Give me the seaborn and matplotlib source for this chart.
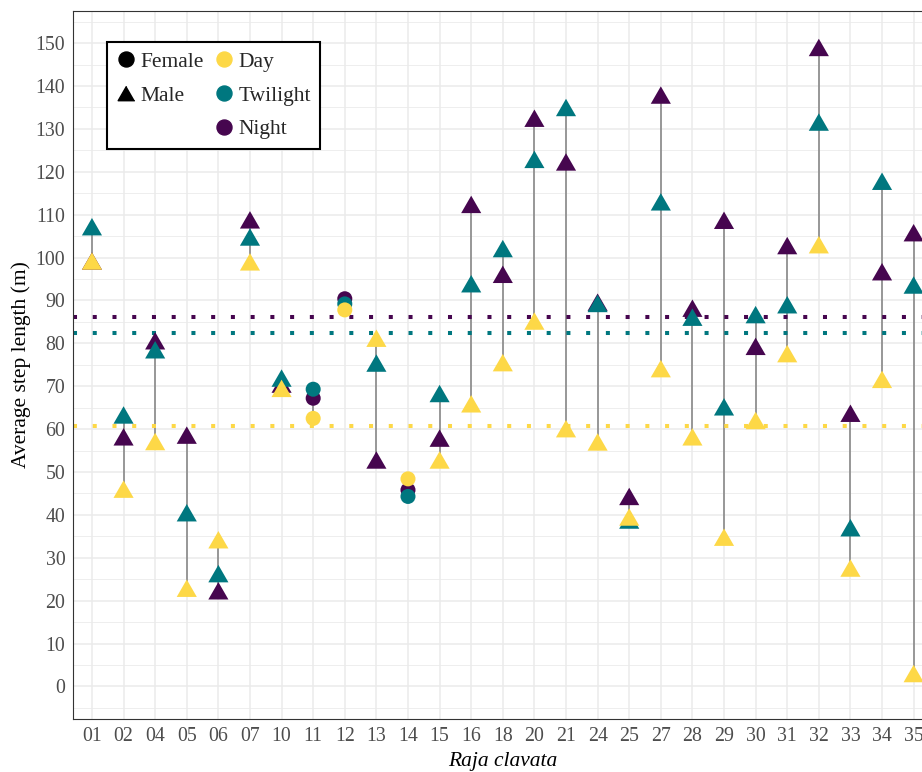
import numpy as np
import pandas as pd
import matplotlib
matplotlib.use("Agg")
import matplotlib.pyplot as plt
import seaborn as sns
from matplotlib.lines import Line2D
from matplotlib.ticker import MultipleLocator

# Average step length (m) per individual and period
ids = ['01', '02', '04', '05', '06', '07', '10', '11', '12', '13', '14', '15', '16', '18',
       '20', '21', '24', '25', '27', '28', '29', '30', '31', '32', '33', '34', '35']
sex = ['Male', 'Male', 'Male', 'Male', 'Male', 'Male', 'Male', 'Female', 'Female', 'Male',
       'Female', 'Male', 'Male', 'Male', 'Male', 'Male', 'Male', 'Male', 'Male', 'Male',
       'Male', 'Male', 'Male', 'Male', 'Male', 'Male', 'Male']
day = [99.2, 46.0, 57.1, 22.9, 34.2, 99.0, 69.5, 62.5, 87.8, 81.2, 48.4, 52.8, 65.9, 75.5,
       85.2, 60.1, 57.0, 39.5, 74.1, 58.2, 34.8, 62.0, 77.6, 103.0, 27.6, 71.6, 3.0]
twilight = [107.2, 63.3, 78.5, 40.5, 26.3, 104.8, 71.9, 69.3, 89.2, 75.4, 44.3, 68.3, 93.9, 102.1,
            122.9, 135.0, 89.3, 38.8, 113.0, 86.1, 65.2, 86.7, 89.0, 131.6, 37.0, 117.8, 93.6]
night = [99.2, 58.2, 80.6, 58.6, 22.3, 108.8, 70.5, 67.2, 90.4, 52.8, 45.8, 57.9, 112.4, 96.1,
         132.5, 122.3, 89.6, 44.3, 137.9, 88.2, 108.7, 79.3, 102.8, 149.0, 63.7, 96.7, 105.8]

periods = ['Day', 'Twilight', 'Night']
mean_step = {'Day': 60.8, 'Twilight': 82.5, 'Night': 86.2}
palette = {'Day': '#FDD847', 'Twilight': '#00777F', 'Night': '#46064F'}

df = pd.DataFrame({'ID': ids, 'Sex': sex, 'Day': day, 'Twilight': twilight, 'Night': night})
df['x'] = np.arange(len(ids))
# night first, day last so day sits on top
long = df.melt(id_vars=['ID', 'Sex', 'x'], value_vars=['Night', 'Twilight', 'Day'],
               var_name='Period', value_name='Step')
rng = long.groupby('x')['Step'].agg(['min', 'max']).reset_index()

sns.set_style('white')
plt.rcParams['font.family'] = ['Liberation Serif']

tri = [(0, 0.5), (-0.577, -0.5), (0.577, -0.5)]

fig = plt.figure(figsize=(9.22, 7.72), dpi=100)
ax = fig.add_axes([73 / 922, 53 / 772, 859.6 / 922, 708 / 772])

ax.vlines(rng['x'], rng['min'], rng['max'], color='#7F7F7F', linewidth=1.1, zorder=2)

for p in periods:
    ax.axhline(mean_step[p], color=palette[p], linestyle=(0, (1, 3.9)), linewidth=2.9, zorder=2.5)

for sx, mk, sz in [('Female', 'o', 117), ('Male', tri, 210)]:
    sns.scatterplot(data=long[long['Sex'] == sx], x='x', y='Step', hue='Period',
                    hue_order=periods, palette=palette, marker=mk, s=sz, linewidth=0,
                    legend=False, ax=ax, zorder=3)

ax.set_xlim(-0.6, len(ids) - 0.4)
ax.set_ylim(-7.6, 157.5)
ax.set_xticks(np.arange(len(ids)))
ax.set_xticklabels(ids)
ax.set_yticks(np.arange(0, 151, 10))
ax.yaxis.set_minor_locator(MultipleLocator(5))

ax.set_axisbelow(True)
ax.grid(True, which='major', color='#EBEBEB', linewidth=1.1)
ax.grid(True, which='minor', axis='y', color='#EBEBEB', linewidth=0.6)

ax.tick_params(axis='both', which='major', direction='out', length=3, width=0.8,
               color='#333333', labelcolor='#4D4D4D', labelsize=14.3, pad=2.5)
ax.tick_params(axis='y', which='minor', length=0)
for s in ax.spines.values():
    s.set_visible(True)
    s.set_color('#333333')
    s.set_linewidth(0.8)

ax.set_ylabel('Average step length (m)', fontsize=15.5, color='black', labelpad=3)
ax.set_xlabel('Raja clavata', fontsize=15.5, fontstyle='italic', color='black', labelpad=4.5)

handles = [
    Line2D([], [], marker='o', color='black', linestyle='None', markersize=10.8, label='Female'),
    Line2D([], [], marker=tri, color='black', linestyle='None', markersize=12, label='Male'),
    Line2D([], [], linestyle='None', label=''),
]
for p in periods:
    handles.append(Line2D([], [], marker='o', color=palette[p], linestyle='None',
                          markersize=10.8, label=p))

leg = ax.legend(handles=handles, ncol=2, loc='upper left', bbox_to_anchor=(0.0396, 0.956),
                borderaxespad=0, fontsize=15.5, frameon=True, fancybox=False,
                edgecolor='black', framealpha=1, handlelength=0.9, handletextpad=0.2,
                labelspacing=0.63, columnspacing=0.5, borderpad=0.45)
leg.get_frame().set_linewidth(1.5)

fig.savefig('out.png', dpi=100)
